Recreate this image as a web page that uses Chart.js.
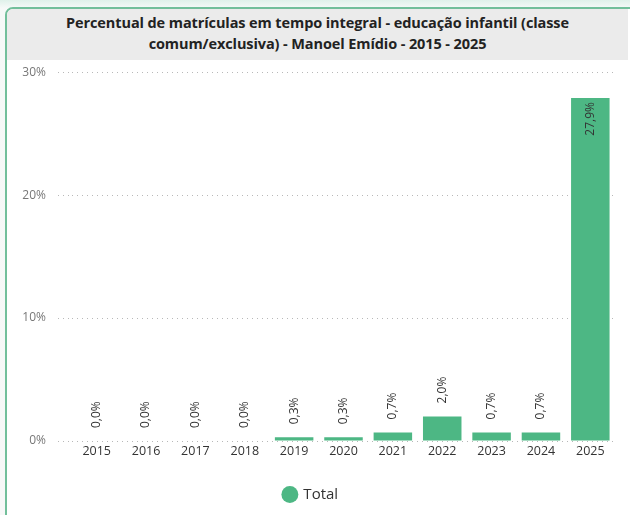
<!DOCTYPE html>
<html>
<head>
<meta charset="utf-8">
<script src="https://cdn.jsdelivr.net/npm/chart.js@4.4.1/dist/chart.umd.min.js"></script>
<style>
  html, body { margin: 0; padding: 0; }
  body {
    width: 630px; height: 515px; overflow: hidden; position: relative;
    background: linear-gradient(180deg, #dff1ea 0px, #f6f9f8 8px, #f7f8f8 100%);
    font-family: "Open Sans", Arial, sans-serif;
  }
  #card {
    position: absolute; left: 5px; top: 7px; width: 640px; height: 520px;
    background: #ffffff; border: 2px solid #72bf9b; border-radius: 8px;
    box-sizing: border-box; overflow: hidden;
  }
  #title {
    position: absolute; left: 0; top: 0; width: 621px; height: 51px;
    background: #ebebeb; color: #222;
    font-weight: 700; font-size: 14.5px; line-height: 21px;
    text-align: center; padding-top: 3px; box-sizing: border-box;
    letter-spacing: -0.1px;
  }
  #wrap { position: absolute; left: 0; top: 44px; width: 623px; height: 464px; }
</style>
</head>
<body>
<div id="card">
  <div id="title">Percentual de matrículas em tempo integral - educação infantil (classe<br>comum/exclusiva) - Manoel Emídio - 2015 - 2025</div>
  <div id="wrap"><canvas id="chart"></canvas></div>
</div>
<script>
// data
const years = ['2015', '2016', '2017', '2018', '2019', '2020', '2021', '2022', '2023', '2024', '2025'];
const totalValues = [0.0, 0.0, 0.0, 0.0, 0.3, 0.3, 0.7, 2.0, 0.7, 0.7, 27.9];
const yTicks = [0, 10, 20, 30];

const barColor = '#4db784';

// rotated value labels above / inside bars
const valueLabels = {
    id: 'valueLabels',
    afterDatasetsDraw(chart) {
        const ctx = chart.ctx;
        const meta = chart.getDatasetMeta(0);
        ctx.save();
        ctx.font = '12px "Open Sans", Arial, sans-serif';
        ctx.fillStyle = '#333333';
        ctx.textBaseline = 'middle';
        meta.data.forEach((bar, i) => {
            const v = totalValues[i];
            const text = v.toFixed(1).replace('.', ',') + '%';
            const w = ctx.measureText(text).width;
            const h = bar.base - bar.y;
            ctx.save();
            if (h > w + 12) {
                ctx.translate(bar.x, bar.y + 4);
                ctx.rotate(-Math.PI / 2);
                ctx.textAlign = 'right';
            } else {
                ctx.translate(bar.x, bar.y - 13);
                ctx.rotate(-Math.PI / 2);
                ctx.textAlign = 'left';
            }
            ctx.fillText(text, 0, 0);
            ctx.restore();
        });
        ctx.restore();
    }
};

new Chart(document.getElementById('chart'), {
    type: 'bar',
    data: {
        labels: years,
        datasets: [{
            label: 'Total',
            data: totalValues,
            backgroundColor: barColor,
            borderWidth: 0,
            barPercentage: 0.78,
            categoryPercentage: 1.0
        }]
    },
    options: {
        responsive: true,
        maintainAspectRatio: false,
        animation: false,
        layout: { padding: { top: 3, right: 15, bottom: 5, left: 0 } },
        plugins: {
            tooltip: { enabled: false },
            legend: {
                display: true,
                position: 'bottom',
                labels: {
                    usePointStyle: true,
                    pointStyle: 'circle',
                    boxWidth: 12,
                    boxHeight: 12,
                    padding: 10,
                    color: '#333333',
                    font: { family: '"Open Sans", Arial, sans-serif', size: 15 }
                }
            }
        },
        scales: {
            x: {
                grid: { display: false, drawTicks: false },
                border: { display: false },
                ticks: {
                    color: '#333333',
                    padding: 3,
                    maxRotation: 0,
                    font: { family: '"Open Sans", Arial, sans-serif', size: 12.5 }
                },
                afterFit(scale) { scale.height = 36; }
            },
            y: {
                min: 0,
                max: 30,
                afterBuildTicks(scale) { scale.ticks = yTicks.map(v => ({ value: v })); },
                grid: {
                    color: '#b8b8b8',
                    lineWidth: 1,
                    drawTicks: true,
                    tickLength: 14,
                    tickColor: '#b8b8b8',
                    tickBorderDash: [1, 4]
                },
                border: { display: false, dash: [1, 4] },
                ticks: {
                    color: '#777777',
                    padding: 12,
                    font: { family: '"Open Sans", Arial, sans-serif', size: 12 },
                    callback: v => v + '%'
                },
                afterFit(scale) { scale.width = 65; }
            }
        }
    },
    plugins: [valueLabels]
});
</script>
</body>
</html>
